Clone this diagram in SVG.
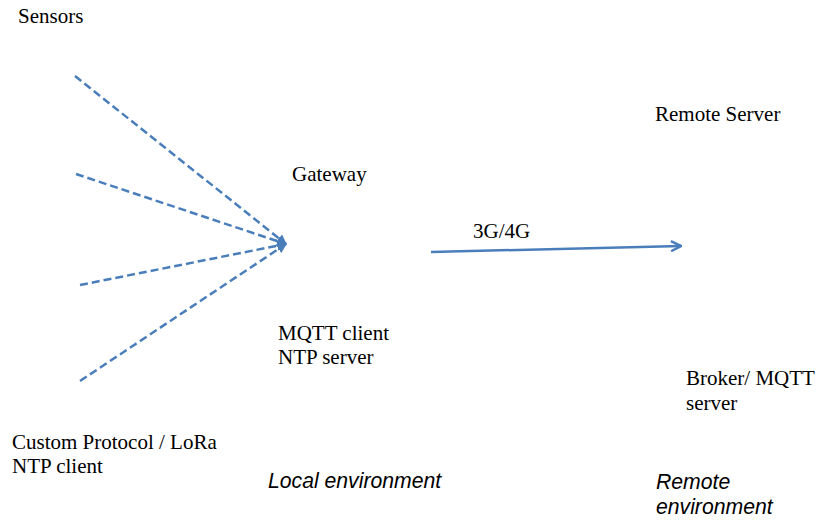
<svg xmlns="http://www.w3.org/2000/svg" width="820" height="524" viewBox="0 0 820 524">
<style>
.t{font-family:"Liberation Serif","Times New Roman",serif;font-size:21px;fill:#000}
.i{font-family:"Liberation Sans",Arial,sans-serif;font-size:21.2px;font-style:italic;fill:#000}
.d{stroke:#4a7ebb;stroke-width:2.5;stroke-dasharray:8 4;fill:none}
.s{stroke:#4a7ebb;stroke-width:2.5;fill:none}
</style>
<defs>
<marker id="a" viewBox="0 0 10 10" refX="9" refY="5" markerWidth="5" markerHeight="5" orient="auto" markerUnits="strokeWidth">
<path d="M1,1 L9,5 L1,9" fill="none" stroke="#4a7ebb" stroke-width="2"/>
</marker>
<marker id="b" viewBox="0 0 10 10" refX="9" refY="5" markerWidth="4" markerHeight="4" orient="auto" markerUnits="strokeWidth">
<path d="M0,0 L10,5 L0,10 Z" fill="#4a7ebb"/>
</marker>
</defs>
<g id="connectors">
<path class="d" d="M75,76 L286,244" marker-end="url(#b)"/>
<path class="d" d="M76,174 L286,244" marker-end="url(#b)"/>
<path class="d" d="M80,285 L286,244" marker-end="url(#b)"/>
<path class="d" d="M80,381 L286,244" marker-end="url(#b)"/>
<path class="s" d="M431,252 L681,246" marker-end="url(#a)"/>
<text class="t" x="473" y="238">3G/4G</text>
</g>
<g id="sensors"><text class="t" x="18" y="23">Sensors</text>
<text class="t" x="12" y="449">Custom Protocol / LoRa</text>
<text class="t" x="12" y="473">NTP client</text></g>
<g id="gateway"><text class="t" x="292" y="181">Gateway</text>
<text class="t" x="278" y="340">MQTT client</text>
<text class="t" x="278" y="364">NTP server</text></g>
<g id="remote-server"><text class="t" x="655" y="121">Remote Server</text>
<text class="t" x="686" y="385">Broker/ MQTT</text>
<text class="t" x="686" y="410">server</text></g>
<g id="local-env"><text class="i" x="268" y="488">Local environment</text></g>
<g id="remote-env"><text class="i" x="656" y="489">Remote</text>
<text class="i" x="656" y="514">environment</text></g>
</svg>
